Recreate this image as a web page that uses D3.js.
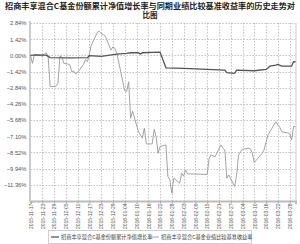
<!DOCTYPE html>
<html><head><meta charset="utf-8">
<script src="https://cdn.jsdelivr.net/npm/d3@7"></script>
<style>html,body{margin:0;padding:0;background:#fff;}svg{display:block;}</style>
</head><body>
<svg id="c" width="300" height="244"></svg>
<script>
const titleLines = ["招商丰享混合C基金份额累计净值增长率与同期业绩比较基准收益率的历史走势对", "比图"];
const seriesNames = ["招商丰享混合C基金份额累计净值增长率", "招商丰享混合C基金业绩比较基准收益率"];
const yTicks = [2.84, 1.42, 0.00, -1.42, -2.84, -4.26, -5.68, -7.10, -8.52, -9.94, -11.36];
const yDomain = [-12.78, 2.84];
const xDomain = ["2015-11-17", "2016-03-31"];
const xTickLabels = ["2015-11-17","2015-11-23","2015-11-29","2015-12-05","2015-12-11","2015-12-17","2015-12-23","2015-12-29","2016-01-04","2016-01-10","2016-01-16","2016-01-22","2016-01-28","2016-02-03","2016-02-09","2016-02-15","2016-02-21","2016-02-27","2016-03-04","2016-03-10","2016-03-16","2016-03-22","2016-03-28"];

const fundDates = ["2015-11-17","2015-11-20","2015-11-25","2015-11-27","2015-12-07","2015-12-16","2015-12-17","2015-12-23","2015-12-31","2016-01-05","2016-01-07","2016-01-11","2016-01-12","2016-01-13","2016-01-22","2016-01-25","2016-02-03","2016-02-15","2016-02-24","2016-02-25","2016-02-29","2016-03-01","2016-03-10","2016-03-16","2016-03-18","2016-03-21","2016-03-22","2016-03-24","2016-03-29","2016-03-30","2016-03-31"];
const fundValues = [0, 0.05, 0.02, -0.2, -0.22, -0.2, -0.03, -0.08, 0.1, 0.17, 0.23, 0.23, 0.11, 0.23, 0.29, -1.09, -1.14, -1.23, -1.29, -1.52, -1.58, -1.29, -1.35, -1.23, -0.95, -0.85, -0.79, -0.94, -0.94, -0.56, -0.56];

const benchDates = ["2015-11-17","2015-11-18","2015-11-19","2015-11-20","2015-11-23","2015-11-24","2015-11-25","2015-11-26","2015-11-27","2015-11-30","2015-12-01","2015-12-02","2015-12-03","2015-12-04","2015-12-07","2015-12-08","2015-12-09","2015-12-10","2015-12-11","2015-12-14","2015-12-15","2015-12-16","2015-12-17","2015-12-18","2015-12-21","2015-12-22","2015-12-23","2015-12-24","2015-12-25","2015-12-28","2015-12-29","2015-12-30","2015-12-31","2016-01-04","2016-01-05","2016-01-06","2016-01-07","2016-01-08","2016-01-11","2016-01-12","2016-01-13","2016-01-14","2016-01-15","2016-01-18","2016-01-19","2016-01-20","2016-01-21","2016-01-22","2016-01-25","2016-01-26","2016-01-27","2016-01-28","2016-01-29","2016-02-01","2016-02-02","2016-02-03","2016-02-04","2016-02-05","2016-02-15","2016-02-16","2016-02-17","2016-02-18","2016-02-19","2016-02-22","2016-02-23","2016-02-24","2016-02-25","2016-02-26","2016-02-29","2016-03-01","2016-03-02","2016-03-03","2016-03-04","2016-03-07","2016-03-08","2016-03-09","2016-03-10","2016-03-11","2016-03-14","2016-03-15","2016-03-16","2016-03-17","2016-03-18","2016-03-21","2016-03-22","2016-03-23","2016-03-24","2016-03-25","2016-03-28","2016-03-29","2016-03-30","2016-03-31"];
const benchValues = [0, -0.7, 0.09, 0.05, -0.06, 0.1, 0.23, -0.12, -2.75, -2.7, -2.45, -0.06, -0.15, -0.7, -0.8, -1.44, -1.38, -1.64, -1.5, -0.79, -0.35, -0.56, 0.11, 0.9, 2.0, 2.13, 1.9, 1.84, 1.72, 0.46, 0.75, 0.61, 0.17, -3.1, -3.19, -2.31, -5.52, -4.9, -6.7, -6.98, -7.27, -6.4, -7.77, -7.77, -6.49, -7.13, -8.6, -8.0, -7.86, -10.63, -10.93, -12.1, -10.78, -11.22, -10.34, -10.6, -10.05, -10.4, -10.45, -9.03, -8.74, -8.83, -8.9, -7.86, -8.15, -8.3, -10.78, -10.49, -11.51, -10.5, -8.74, -8.45, -8.24, -8.15, -8.2, -8.6, -9.41, -9.2, -8.59, -8.3, -7.6, -6.98, -6.7, -5.82, -6.11, -6.3, -6.7, -6.75, -6.84, -7.42, -6.25, -6.25];

const parse = d3.timeParse("%Y-%m-%d");
const svg = d3.select("#c");
const L = 30.5, R = 295.5, T = 23, B = 201;
const x = d3.scaleTime().domain(xDomain.map(parse)).range([L, R]);
const y = d3.scaleLinear().domain(yDomain).range([B, T]);
const font = "'Liberation Sans', Arial, sans-serif";
const cjk = "'Noto Sans CJK SC', sans-serif";

// title
svg.append("text").attr("x", 150).attr("y", 8.6).attr("text-anchor", "middle")
  .attr("font-family", cjk).attr("font-size", 7.5).attr("font-weight", "bold").attr("fill", "#222")
  .attr("textLength", 290).attr("lengthAdjust", "spacingAndGlyphs").text(titleLines[0]);
svg.append("text").attr("x", 150).attr("y", 18.2).attr("text-anchor", "middle")
  .attr("font-family", cjk).attr("font-size", 7.5).attr("font-weight", "bold").attr("fill", "#222")
  .text(titleLines[1]);

// horizontal grid
svg.append("g").selectAll("line").data(yTicks).join("line")
  .attr("x1", L).attr("x2", R).attr("y1", d => Math.round(y(d)) + 0.5).attr("y2", d => Math.round(y(d)) + 0.5)
  .attr("stroke", "#aaa").attr("stroke-width", 0.7).attr("stroke-dasharray", "1.5,1.5");
// vertical grid
const xt = xTickLabels.map(parse);
svg.append("g").selectAll("line").data(xt.slice(1)).join("line")
  .attr("x1", d => Math.round(x(d)) + 0.5).attr("x2", d => Math.round(x(d)) + 0.5).attr("y1", T).attr("y2", B)
  .attr("stroke", "#aaa").attr("stroke-width", 0.7).attr("stroke-dasharray", "1.5,1.5");
// right border
svg.append("line").attr("x1", R + 0.5).attr("x2", R + 0.5).attr("y1", T).attr("y2", B)
  .attr("stroke", "#bbb").attr("stroke-width", 0.8);

// y axis labels
const yAxis = d3.axisLeft(y).tickValues(yTicks).tickSize(0).tickPadding(4)
  .tickFormat(d => d3.format(".2f")(d) + "%");
const gy = svg.append("g").attr("transform", `translate(${L},0)`).call(yAxis);
gy.select(".domain").remove();
gy.selectAll("text").attr("font-family", font).attr("font-size", 5.8).attr("fill", "#555");

// x axis
const xAxis = d3.axisBottom(x).tickValues(xt).tickSize(3).tickFormat(d3.timeFormat("%Y-%m-%d"));
const gx = svg.append("g").attr("transform", `translate(0,${B})`).call(xAxis);
gx.select(".domain").attr("stroke", "#bbb").attr("stroke-width", 2);
gx.selectAll(".tick line").attr("stroke", "#999").attr("stroke-width", 0.6);
gx.selectAll("text").attr("font-family", font).attr("font-size", 5).attr("fill", "#555")
  .attr("dy", null).attr("transform", "rotate(-90)")
  .attr("x", -28).attr("y", 1.8).attr("text-anchor", "start");

// left axis bar
svg.append("line").attr("x1", L - 0.5).attr("x2", L - 0.5).attr("y1", T - 2).attr("y2", B + 1)
  .attr("stroke", "#ccc").attr("stroke-width", 2);

// lines
const line = d3.line().x(d => x(d[0])).y(d => y(d[1]));
const bench = benchDates.map((d, i) => [parse(d), benchValues[i]]);
const fund = fundDates.map((d, i) => [parse(d), fundValues[i]]);
svg.append("path").datum(bench).attr("d", line).attr("fill", "none").attr("stroke", "#999").attr("stroke-width", 0.9);
svg.append("path").datum(fund).attr("d", line).attr("fill", "none").attr("stroke", "#555").attr("stroke-width", 1.3);

// legend
const lg = svg.append("g");
lg.append("rect").attr("x", 48.5).attr("y", 230.5).attr("width", 203).attr("height", 13)
  .attr("fill", "#fff").attr("stroke", "#bbb").attr("stroke-width", 0.7);
const items = [{name: seriesNames[0], color: "#555", w: 1.3, x0: 51}, {name: seriesNames[1], color: "#999", w: 0.9, x0: 151}];
items.forEach(it => {
  lg.append("line").attr("x1", it.x0).attr("x2", it.x0 + 8).attr("y1", 237).attr("y2", 237)
    .attr("stroke", it.color).attr("stroke-width", it.w);
  lg.append("text").attr("x", it.x0 + 10).attr("y", 239).attr("font-family", cjk).attr("font-size", 5.2)
    .attr("fill", "#333").text(it.name);
});
</script>
</body></html>
